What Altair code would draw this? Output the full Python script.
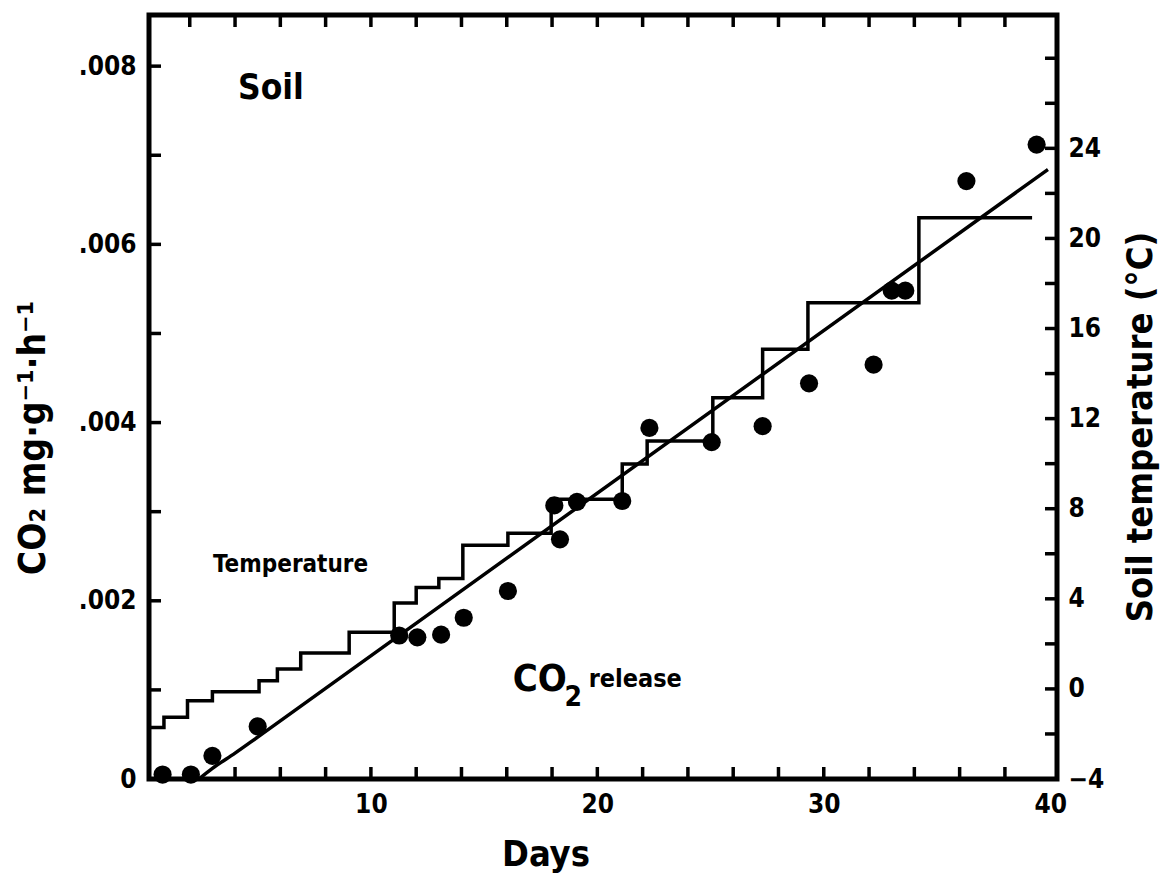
import altair as alt
import pandas as pd

# ---- data ----
co2_days = [0.8, 2.05, 3.0, 5.0, 11.25, 12.05, 13.1, 14.1, 16.05, 18.1, 18.35, 19.1,
            21.1, 22.3, 25.05, 27.3, 29.35, 32.2, 33.0, 33.6, 36.3, 39.4]
co2_vals = [0.00005, 0.00005, 0.00026, 0.00059, 0.00161, 0.00159, 0.00162, 0.00181,
            0.00211, 0.00307, 0.00269, 0.00311, 0.00312, 0.00394, 0.00378, 0.00396,
            0.00444, 0.00465, 0.00548, 0.00548, 0.00671, 0.00712]

fit_days = [2.4, 3.0, 4.0, 5.0, 39.9]
fit_vals = [0.0, 0.00012, 0.00029, 0.00047, 0.00684]

temp_days = [0.2, 0.86, 1.9, 3.0, 5.06, 5.87, 6.9, 9.04, 11.03, 12.0, 13.0, 14.06,
             16.05, 17.96, 21.1, 22.2, 25.1, 27.3, 29.3, 34.2, 39.2]
temp_vals = [-1.71, -1.26, -0.53, -0.13, 0.36, 0.88, 1.59, 2.51, 3.81, 4.50, 4.90, 6.38,
             6.91, 8.42, 9.98, 11.01, 12.93, 15.08, 17.15, 20.92, 20.92]

x_tick_days = list(range(2, 40, 2))
x_label_days = [10, 20, 30, 40]
left_tick_vals = [0.001 * i for i in range(1, 9)]
left_label_vals = [0, 0.002, 0.004, 0.006, 0.008]
right_tick_vals = list(range(-2, 30, 2))
right_label_vals = [-4, 0, 4, 8, 12, 16, 20, 24]

annot_text = ["Soil", "Temperature", "CO", "2", "release"]
annot_day = [4.13, 3.03, 16.26, 18.55, 19.62]
annot_co2 = [0.007627, 0.002322, 0.000987, 0.000819, 0.001032]
annot_size = [35, 24, 38, 28, 25]

# ---- layout ----
W, H = 908, 764
FONT = "Liberation Sans Narrow, DejaVu Sans Condensed, Roboto Condensed, Arial Narrow, sans-serif"
X_DOM = [0.2, 40.3]
Y_DOM = [0.0, 0.008574]
T_DOM = [-4.0, 29.92]
LW = 3.5
TICK = 12

xs = alt.Scale(domain=X_DOM, nice=False, zero=False)
ys = alt.Scale(domain=Y_DOM, nice=False, zero=False)
ts = alt.Scale(domain=T_DOM, nice=False, zero=False)

pts_df = pd.DataFrame({"d": co2_days, "v": co2_vals})
fit_df = pd.DataFrame({"d": fit_days, "v": fit_vals})
tmp_df = pd.DataFrame({"d": temp_days, "t": temp_vals})
xt_df = pd.DataFrame({"d": x_tick_days})
lt_df = pd.DataFrame({"v": left_tick_vals})
rt_df = pd.DataFrame({"t": right_tick_vals})
an_df = pd.DataFrame({"label": annot_text, "d": annot_day, "v": annot_co2, "fs": annot_size})

x_axis = alt.Axis(values=x_label_days, ticks=False, domain=False, grid=False, orient="bottom",
                  labelFont=FONT, labelFontSize=26, labelFontWeight="bold", labelColor="black",
                  labelPadding=12, title="Days", titleFont=FONT, titleFontSize=36,
                  titleFontWeight="bold", titleColor="black", titleX=396.5, titleY=75,
                  titleAlign="center", titleBaseline="middle")

y_axis = alt.Axis(values=left_label_vals, ticks=False, domain=False, grid=False, orient="left",
                  labelExpr="datum.value == 0 ? '0' : substring(format(datum.value, '.3f'), 1)",
                  labelFont=FONT, labelFontSize=26, labelFontWeight="bold", labelColor="black",
                  labelPadding=13, title="CO₂ mg·g⁻¹·h⁻¹", titleFont=FONT, titleFontSize=37,
                  titleFontWeight="bold", titleColor="black", titleX=-115.5, titleY=422.5,
                  titleAngle=270, titleAlign="center", titleBaseline="middle")

t_axis = alt.Axis(values=right_label_vals, ticks=False, domain=False, grid=False, orient="right",
                  labelFont=FONT, labelFontSize=26, labelFontWeight="bold", labelColor="black",
                  labelPadding=11, title="Soil temperature (°C)", titleFont=FONT, titleFontSize=36,
                  titleFontWeight="bold", titleColor="black", titleX=83, titleY=411.5,
                  titleAngle=270, titleAlign="center", titleBaseline="middle")

X = alt.X("d:Q", scale=xs, axis=x_axis)

pts = alt.Chart(pts_df).mark_circle(size=330, color="black", opacity=1).encode(
    x=X,
    y=alt.Y("v:Q", scale=ys, axis=y_axis),
)

fit = alt.Chart(fit_df).mark_line(color="black", strokeWidth=LW, interpolate="monotone").encode(
    x=X,
    y=alt.Y("v:Q", scale=ys, axis=None),
)

bottom_ticks = alt.Chart(xt_df).mark_rule(color="black", strokeWidth=LW).encode(
    x=X,
    y=alt.value(H), y2=alt.value(H - TICK),
)
top_ticks = alt.Chart(xt_df).mark_rule(color="black", strokeWidth=LW).encode(
    x=X,
    y=alt.value(0), y2=alt.value(TICK),
)
left_ticks = alt.Chart(lt_df).mark_rule(color="black", strokeWidth=LW).encode(
    y=alt.Y("v:Q", scale=ys, axis=None),
    x=alt.value(0), x2=alt.value(TICK),
)

texts = alt.Chart(an_df).mark_text(font=FONT, fontWeight="bold", color="black",
                                   align="left", baseline="alphabetic").encode(
    x=X,
    y=alt.Y("v:Q", scale=ys, axis=None),
    text="label:N",
    size=alt.Size("fs:Q", scale=None, legend=None),
)

step = alt.Chart(tmp_df).mark_line(color="black", strokeWidth=LW, interpolate="step-after").encode(
    x=X,
    y=alt.Y("t:Q", scale=ts, axis=t_axis),
)
right_ticks = alt.Chart(rt_df).mark_rule(color="black", strokeWidth=LW).encode(
    y=alt.Y("t:Q", scale=ts, axis=None),
    x=alt.value(W), x2=alt.value(W - TICK),
)

chart = alt.layer(
    pts, step, fit, bottom_ticks, top_ticks, left_ticks, right_ticks, texts
).resolve_scale(y="independent").properties(
    width=W, height=H,
    padding={"left": 6, "top": 5, "right": 5, "bottom": 5},
    background="white",
).configure_view(stroke="black", strokeWidth=5)

chart.save("out.html", embed_options={"renderer": "svg", "actions": False})
